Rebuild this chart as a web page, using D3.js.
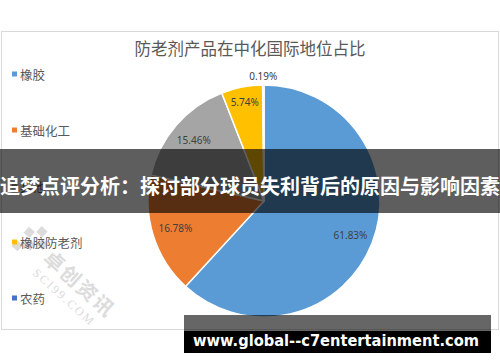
<!DOCTYPE html>
<html><head><meta charset="utf-8">
<script src="https://cdn.jsdelivr.net/npm/d3@7"></script>
<style>
html,body{margin:0;padding:0;background:#fff;}
svg{display:block;}
</style></head>
<body>
<script>
const categories = ["橡胶", "基础化工", "其他", "橡胶防老剂", "农药"];
const shares = [61.83, 16.78, 15.46, 5.74, 0.19];
const colors = ["#5B9BD5", "#ED7D31", "#A5A5A5", "#FFC000", "#4472C4"];
const chartTitle = "防老剂产品在中化国际地位占比";
const bannerText = "追梦点评分析：探讨部分球员失利背后的原因与影响因素";
const footerText = "www.global--c7entertainment.com";

const W = 500, H = 362;
const cjk = "'Noto Sans CJK SC','Microsoft YaHei',sans-serif";
const svg = d3.select("body").append("svg").attr("width", W).attr("height", H);

// chart frame
svg.append("rect").attr("x", 1.5).attr("y", 31.5).attr("width", 497).attr("height", 298)
  .attr("fill", "#fff").attr("stroke", "#d9d9d9").attr("stroke-width", 1);

// title
svg.append("text").attr("x", 250).attr("y", 48).attr("text-anchor", "middle")
  .attr("dominant-baseline", "central").attr("font-family", cjk)
  .attr("font-size", 16.5).attr("fill", "#595959").text(chartTitle);

// watermark
const wm = svg.append("g").attr("transform", "translate(42,260) rotate(42)").attr("opacity", 0.85);
wm.append("text").attr("x", 0).attr("y", 0).attr("font-family", cjk).attr("font-weight", "bold")
  .attr("font-size", 20).attr("fill", "#d6d6d6").attr("letter-spacing", 2).text("卓创资讯");
wm.append("text").attr("x", 2).attr("y", 17).attr("font-family", "'Liberation Serif',serif")
  .attr("font-size", 12).attr("fill", "#d6d6d6").attr("letter-spacing", 2).text("SCI99.COM");
[[-32,-16],[-23,-7],[-32,2],[-14,-16],[-23,-25]].forEach(p => {
  wm.append("rect").attr("x", p[0]).attr("y", p[1]).attr("width", 8).attr("height", 8)
    .attr("fill", "#d6d6d6");
});

// legend
const legendY = d3.scalePoint().domain(categories).range([74, 298]);
const lg = svg.append("g").selectAll("g").data(categories).join("g")
  .attr("transform", d => `translate(12,${legendY(d)})`);
lg.append("rect").attr("x", 0).attr("y", -2.5).attr("width", 5).attr("height", 5)
  .attr("fill", (d, i) => colors[i]);
lg.append("text").attr("x", 8).attr("y", 0).attr("dominant-baseline", "central")
  .attr("font-family", cjk).attr("font-size", 12.5).attr("fill", "#595959").text(d => d);

// pie
const cx = 264, cy = 201, R = 116;
const pie = d3.pie().sort(null).value(d => d)(shares);
const arc = d3.arc().innerRadius(0).outerRadius(R);
const g = svg.append("g").attr("transform", `translate(${cx},${cy})`);
g.selectAll("path").data(pie).join("path").attr("d", arc)
  .attr("fill", (d, i) => colors[i]).attr("stroke", "#fff").attr("stroke-width", 1.5);

function labelPos(d) {
  const f = d.data < 1 ? 1.08 : (d.data < 10 ? 0.87 : 0.8);
  const a = (d.startAngle + d.endAngle) / 2;
  return [Math.sin(a) * R * f, -Math.cos(a) * R * f];
}
g.selectAll("text.lbl").data(pie).join("text").attr("class", "lbl")
  .attr("transform", d => `translate(${labelPos(d)})`)
  .attr("text-anchor", "middle").attr("dominant-baseline", "central")
  .attr("font-family", "'Noto Sans','DejaVu Sans',sans-serif").attr("font-size", 10)
  .attr("fill", "#404040").text(d => d.data.toFixed(2) + "%");

// overlay banner
svg.append("rect").attr("x", 0).attr("y", 149).attr("width", W).attr("height", 64)
  .attr("fill", "rgba(0,0,0,0.63)");
svg.append("text").attr("x", 250).attr("y", 185).attr("text-anchor", "middle")
  .attr("dominant-baseline", "central").attr("font-family", cjk).attr("font-weight", "bold")
  .attr("font-size", 20).attr("fill", "#fff").text(bannerText);

// footer banner
svg.append("rect").attr("x", 184).attr("y", 315).attr("width", 307).attr("height", 16)
  .attr("fill", "rgba(0,0,0,0.6)");
svg.append("rect").attr("x", 184).attr("y", 331).attr("width", 307).attr("height", 22)
  .attr("fill", "#000");
svg.append("text").attr("x", 193).attr("y", 346)
  .attr("font-family", "'DejaVu Sans',Verdana,sans-serif").attr("font-weight", "bold")
  .attr("font-size", 15).attr("fill", "#fff")
  .attr("textLength", 286).attr("lengthAdjust", "spacingAndGlyphs").text(footerText);
</script>
</body></html>
